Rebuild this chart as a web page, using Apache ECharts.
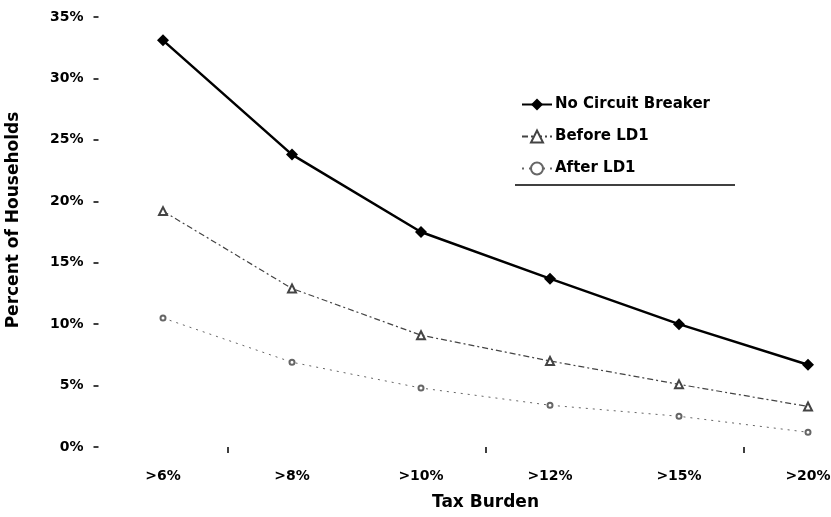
<!DOCTYPE html>
<html><head><meta charset="utf-8">
<script src="https://cdn.jsdelivr.net/npm/echarts@6/dist/echarts.min.js"></script>
<style>html,body{margin:0;padding:0;background:#fff}#c{width:831px;height:517px}</style>
</head><body><div id="c"></div>
<script>
const categories = ['>6%', '>8%', '>10%', '>12%', '>15%', '>20%'];
const noCircuitBreaker = [33.1, 23.8, 17.5, 13.7, 10.0, 6.7];
const beforeLD1 = [19.2, 12.9, 9.1, 7.0, 5.1, 3.3];
const afterLD1 = [10.5, 6.9, 4.8, 3.4, 2.5, 1.2];
const yTicks = [0, 5, 10, 15, 20, 25, 30, 35];

const font = 'DejaVu Sans, Arial, sans-serif';
const chart = echarts.init(document.getElementById('c'));
chart.setOption({
  animation: false,
  backgroundColor: '#fff',
  grid: { left: 98.5, width: 774, top: 17, bottom: 70, containLabel: false, outerBoundsMode: 'none' },
  legend: {
    orient: 'vertical', left: 516, top: 92, itemGap: 17, itemWidth: 30, itemHeight: 15,
    textStyle: { fontFamily: font, fontWeight: 'bold', fontSize: 15, color: '#000', padding: [0,0,0,-2] },
    data: ['No Circuit Breaker', 'Before LD1', 'After LD1']
  },
  graphic: [{ type: 'line', shape: { x1: 515, y1: 185, x2: 735, y2: 185 }, style: { stroke: '#000', lineWidth: 1.5 } }],
  xAxis: {
    type: 'category', data: categories, boundaryGap: true,
    name: 'Tax Burden', nameLocation: 'middle', nameGap: 47,
    nameTextStyle: { fontFamily: font, fontWeight: 'bold', fontSize: 17, color: '#000' },
    axisLine: { show: false },
    axisTick: { show: true, length: 6, interval: function (i) { return i % 2 === 1; }, lineStyle: { color: '#000', width: 1.5 } },
    axisLabel: { fontFamily: font, fontWeight: 'bold', fontSize: 14, color: '#000', margin: 22 }
  },
  yAxis: {
    type: 'value', min: 0, max: 35, interval: 5,
    name: 'Percent of Households', nameLocation: 'middle', nameGap: 76,
    nameTextStyle: { fontFamily: font, fontWeight: 'bold', fontSize: 17, color: '#000', padding: [0, 0, 0, 24] },
    axisLine: { show: false },
    axisTick: { show: true, length: 5, lineStyle: { color: '#000', width: 1.5 } },
    splitLine: { show: false },
    axisLabel: { fontFamily: font, fontWeight: 'bold', fontSize: 14, color: '#000', margin: 15,
      formatter: function (v) { return yTicks.indexOf(v) >= 0 ? v + '%' : ''; } }
  },
  series: [
    { name: 'No Circuit Breaker', type: 'line', data: noCircuitBreaker, symbol: 'diamond', symbolSize: 12,
      itemStyle: { color: '#000' }, lineStyle: { color: '#000', width: 2.5 } },
    { name: 'Before LD1', type: 'line', data: beforeLD1, symbol: 'emptyTriangle', symbolSize: 8,
      itemStyle: { color: '#444', borderColor: '#444', borderWidth: 1 }, lineStyle: { color: '#444', width: 1.2, type: [6, 3, 2, 3] } },
    { name: 'After LD1', type: 'line', data: afterLD1, symbol: 'emptyCircle', symbolSize: 5,
      itemStyle: { color: '#666', borderColor: '#666', borderWidth: 1 }, lineStyle: { color: '#666', width: 1, type: [2, 5] } }
  ]
});
</script></body></html>
